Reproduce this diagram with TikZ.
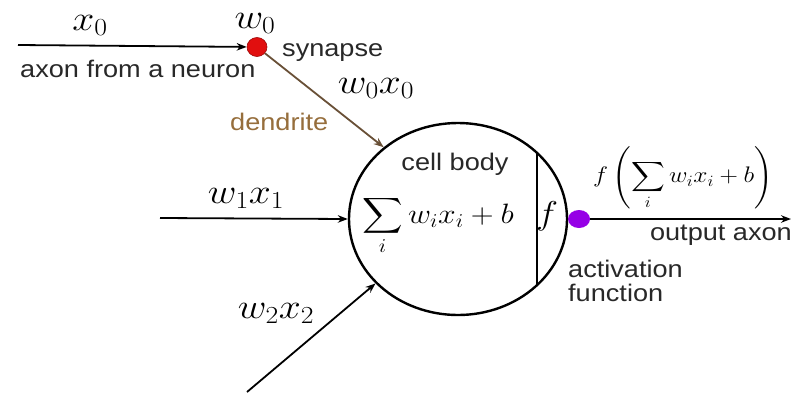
\RequirePackage{fix-cm}
\documentclass[tikz,border=0pt]{standalone}
\usepackage{amsmath}
\usepackage{graphicx}
\usepackage{fontspec}
\setmainfont{Liberation Sans}
\usetikzlibrary{shapes.geometric,arrows.meta}
\definecolor{dendtext}{RGB}{150,110,60}
\definecolor{dendline}{RGB}{105,80,55}
\definecolor{synred}{RGB}{225,15,15}
\definecolor{actpurple}{RGB}{150,0,230}
\definecolor{ink}{RGB}{40,40,40}
\newcommand{\hstr}[1]{\scalebox{1.13}[1]{#1}}
\begin{document}
\begin{tikzpicture}[x=1pt,y=-1pt,
  lbl/.style={inner sep=0, text=ink, font=\fontsize{24}{28}\selectfont},
  mth/.style={inner sep=0, font=\fontsize{35}{40}\selectfont},
  arr/.style={-{Stealth[length=10pt,width=7.5pt]}, line width=1.8pt},
  ]
\useasboundingbox[fill=white] (0,0) rectangle (792,397);
% cell body
\node[draw, ellipse, line width=2.4pt, minimum width=218, minimum height=192, inner sep=0] (body) at (458,219) {};
\draw[line width=2.4pt] (537,153) -- (537,285);
% dots
\node[ellipse, fill=synred, draw=synred!70!black, line width=0.6pt, minimum width=20, minimum height=19, inner sep=0] (syn) at (257,47) {};
\node[ellipse, fill=actpurple, minimum width=22, minimum height=18, inner sep=0] (act) at (579,219) {};
% free ends
\coordinate (in0) at (18,45);
\coordinate (in1) at (160,218);
\coordinate (in2) at (247,392);
\coordinate (out) at (791,219);
% connectors
\draw[arr] (in0) -- (syn);
\draw[arr, draw=dendline] (syn) -- (body.136);
\draw[arr] (in1) -- (body.180);
\draw[arr] (in2) -- (body.218);
\draw[arr] (act) -- (out);
% math labels
\node[mth, anchor=base] (x0) at (90,30) {\hstr{$x_0$}};
\node[mth, anchor=base] (w0) at (255,28) {\hstr{$w_0$}};
\node[mth, anchor=base] (w0x0) at (376,93) {\hstr{$w_0x_0$}};
\node[mth, anchor=base] (w1x1) at (246,203) {\hstr{$w_1x_1$}};
\node[mth, anchor=base] (w2x2) at (276,318) {\hstr{$w_2x_2$}};
\node[inner sep=0, anchor=base west, font=\fontsize{28}{32}\selectfont] (sum) at (362,223) {\hstr{$\displaystyle\sum_i w_ix_i+b$}};
\node[inner sep=0, anchor=base, font=\fontsize{33}{37}\selectfont] (f) at (547,224) {\hstr{$f$}};
\node[inner sep=0, font=\fontsize{22.5}{27}\selectfont] (fout) at (683,178) {\hstr{$f\left(\displaystyle\sum_i w_ix_i+b\right)$}};
% text labels
\node[lbl, anchor=base west] (axon) at (20,77) {\hstr{axon from a neuron}};
\node[lbl, anchor=base west] (synl) at (282,56) {\hstr{synapse}};
\node[lbl, anchor=base west, text=dendtext] (dend) at (230,130) {\hstr{dendrite}};
\node[lbl, anchor=base] (cell) at (455,170) {\hstr{cell body}};
\node[lbl, anchor=base east] (outl) at (792,240) {\hstr{output axon}};
\node[lbl, anchor=base west] (act1) at (568,277) {\hstr{activation}};
\node[lbl, anchor=base west] (act2) at (568,301) {\hstr{function}};
\end{tikzpicture}
\end{document}
